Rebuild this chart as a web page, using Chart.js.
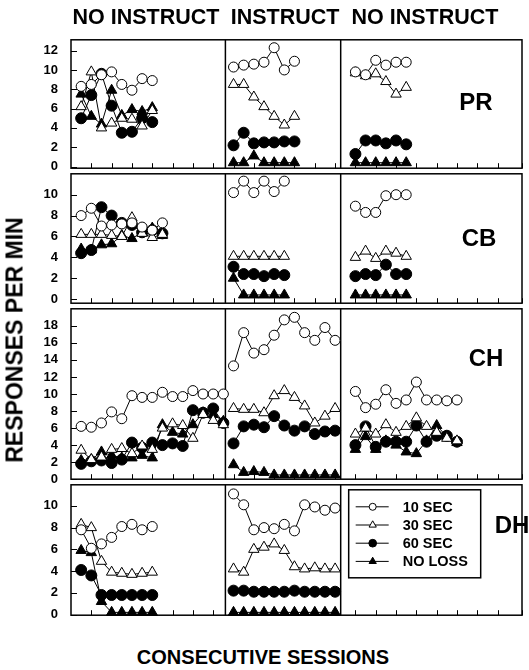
<!DOCTYPE html>
<html>
<head>
<meta charset="utf-8">
<script src="https://cdn.jsdelivr.net/npm/chart.js@4.4.1/dist/chart.umd.min.js"></script>
<style>
  body { margin: 0; background: #fff; }
  #wrap { position: relative; width: 529px; height: 670px; overflow: hidden;
          font-family: "Liberation Sans", Arial, sans-serif; font-weight: bold; color: #000; }
  .row { position: absolute; left: 0; }
  .txt { position: absolute; white-space: nowrap; line-height: 1; transform: translate(-50%, -50%); }
</style>
</head>
<body>
<div id="wrap">
  <canvas id="cPR" class="row" width="529" height="154" style="top:27px"></canvas>
  <canvas id="cCB" class="row" width="529" height="155" style="top:161px"></canvas>
  <canvas id="cCH" class="row" width="529" height="196" style="top:296px"></canvas>
  <canvas id="cDH" class="row" width="529" height="156" style="top:472px"></canvas>

  <div class="txt" style="left:146px; top:18px; font-size:21.5px">NO INSTRUCT</div>
  <div class="txt" style="left:285px; top:18px; font-size:21.5px">INSTRUCT</div>
  <div class="txt" style="left:425px; top:18px; font-size:21.5px">NO INSTRUCT</div>

  <div class="txt" style="left:476px; top:102px; font-size:24px">PR</div>
  <div class="txt" style="left:479px; top:238px; font-size:24px">CB</div>
  <div class="txt" style="left:486px; top:358px; font-size:24px">CH</div>
  <div class="txt" style="left:512px; top:525px; font-size:24px">DH</div>

  <div class="txt" style="left:15px; top:340px; font-size:23px; transform: translate(-50%, -50%) rotate(-90deg)">RESPONSES PER MIN</div>
  <div class="txt" style="left:263px; top:657px; font-size:20px">CONSECUTIVE SESSIONS</div>
</div>

<script>
// session where each phase begins (NO INSTRUCT, INSTRUCT, NO INSTRUCT)
var phaseStart = [1, 16, 28];
var phaseBreaks = [15.2, 26.55];
var sessionMax = 44.4;

var conditions = ['10 SEC', '30 SEC', '60 SEC', 'NO LOSS'];

// tick labels per row
var prTicks = [0, 2, 4, 6, 8, 10, 12];
var cbTicks = [0, 2, 4, 6, 8, 10];
var chTicks = [0, 2, 4, 6, 8, 10, 12, 14, 16, 18];
var dhTicks = [0, 2, 4, 6, 8, 10];

// PR
var prTen    = [[8.3, 8.5, 9.5, 9.8, 8.5, 7.9, 9.1, 8.9], [10.3, 10.5, 10.6, 10.8, 12.3, 10.0, 10.9], [9.8, 9.5, 11.0, 10.5, 10.8, 10.8]];
var prThirty = [[6.2, 9.8, 4.0, 4.5, 5.0, 4.9, 4.2, 5.8], [8.5, 8.5, 7.2, 6.2, 5.2, 4.3, 5.2], [9.7, 9.4, 9.6, 8.8, 7.5, 8.2]];
var prSixty  = [[5.0, 7.4, 9.6, 6.3, 3.5, 3.6, 5.0, 4.6], [2.2, 3.5, 2.4, 2.5, 2.5, 2.6, 2.6], [1.3, 2.7, 2.7, 2.4, 2.7, 2.3]];
var prNoLoss = [[7.5, 5.2, 4.4, 7.9, 5.3, 5.9, 5.7, 6.1], [0.4, 0.4, 1.1, 0.4, 0.4, 0.4, 0.4], [0.4, 0.4, 0.4, 0.4, 0.4, 0.4]];

// CB
var cbTen    = [[8.0, 8.7, 7.0, 7.1, 7.2, 7.3, 6.9, 6.6, 7.3], [10.2, 11.3, 10.2, 11.3, 10.3, 11.3], [8.9, 8.3, 8.3, 9.9, 10.0, 10.0]];
var cbThirty = [[6.2, 6.2, 6.2, 6.1, 6.0, 7.8, 6.3, 5.9, 6.2], [4.1, 4.1, 4.1, 4.1, 4.1, 4.1], [4.0, 4.6, 3.9, 4.6, 4.4, 4.1]];
var cbSixty  = [[4.4, 4.7, 8.8, 8.0, 7.3, 7.1, 6.4, 6.6, 6.3], [3.1, 2.4, 2.4, 2.2, 2.4, 2.3], [2.2, 2.4, 2.3, 3.3, 2.4, 2.4]];
var cbNoLoss = [[4.8, 4.7, 5.2, 5.3, 6.1, 5.8, 6.4, 6.8, 6.1], [2.0, 0.4, 0.4, 0.4, 0.4, 0.4], [0.4, 0.4, 0.4, 0.4, 0.4, 0.4]];

// CH
var chTen    = [[6.2, 6.1, 6.6, 7.9, 7.1, 9.8, 9.6, 9.6, 10.2, 9.7, 9.7, 10.4, 10.0, 10.0, 10.0],
                [13.3, 17.2, 14.8, 15.2, 16.9, 18.7, 19.0, 17.2, 16.3, 17.8, 16.3],
                [10.3, 8.4, 8.8, 10.5, 8.9, 9.3, 11.4, 9.3, 9.3, 9.2, 9.3]];
var chThirty = [[3.4, 2.3, 2.6, 3.5, 3.6, 3.0, 3.9, 3.5, 6.0, 6.5, 6.3, 4.8, 7.6, 6.9, 6.4],
                [8.3, 8.2, 8.2, 7.8, 9.8, 10.4, 9.6, 8.6, 6.6, 7.4, 8.3],
                [5.3, 6.0, 5.3, 6.4, 5.5, 6.2, 7.2, 6.2, 5.5, 4.8, 4.5]];
var chSixty  = [[1.8, 2.1, 2.2, 1.9, 2.3, 4.3, 3.7, 4.3, 4.0, 4.2, 3.9, 8.1, 7.8, 8.3, 6.6],
                [4.2, 6.2, 6.4, 6.1, 7.4, 6.3, 5.7, 6.2, 5.3, 5.6, 5.7],
                [4.0, 6.2, 3.8, 4.4, 4.4, 4.4, 6.3, 4.4, 5.1, 5.1, 4.4]];
var chNoLoss = [[2.2, 2.3, 3.2, 2.8, 2.5, 2.5, 2.8, 2.5, 6.4, 5.5, 5.3, 6.4, 7.8, 7.6, 6.8],
                [1.7, 0.8, 0.9, 0.8, 0.5, 0.5, 0.5, 0.5, 0.5, 0.5, 0.5],
                [3.5, 5.0, 3.5, 4.5, 4.0, 3.2, 3.0, 4.5, 6.3, 5.0, 4.3]];

// DH
var dhTen    = [[7.8, 6.1, 6.5, 7.1, 8.1, 8.3, 7.8, 8.1], [11.1, 10.1, 7.8, 8.0, 7.9, 8.3, 7.7, 10.1, 9.9, 9.6, 9.8], []];
var dhThirty = [[8.3, 8.0, 4.9, 3.9, 3.8, 3.7, 3.8, 3.9], [4.2, 3.9, 6.0, 6.2, 6.5, 5.9, 4.4, 4.2, 4.3, 4.2, 4.2], []];
var dhSixty  = [[4.1, 3.6, 1.8, 1.8, 1.8, 1.8, 1.8, 1.8], [2.2, 2.2, 2.1, 2.1, 2.1, 2.1, 2.2, 2.1, 2.1, 2.1, 2.1], []];
var dhNoLoss = [[5.9, 5.7, 1.2, 0.2, 0.2, 0.2, 0.2, 0.2], [0.2, 0.2, 0.2, 0.2, 0.2, 0.2, 0.2, 0.2, 0.2, 0.2, 0.2], []];

var markStyles = [
  { style: 'circle', fill: '#fff', r: 5 },
  { style: 'triangle', fill: '#fff', r: 6 },
  { style: 'circle', fill: '#000', r: 5.5 },
  { style: 'triangle', fill: '#000', r: 6 }
];

function series(phases) {
  var pts = [];
  phases.forEach(function (vals, p) {
    vals.forEach(function (v, i) { pts.push({ x: phaseStart[p] + i, y: v }); });
    if (vals.length) pts.push({ x: phaseStart[p] + vals.length - 0.5, y: null });
  });
  return pts;
}

function drawMark(ctx, m, x, y, r) {
  ctx.beginPath();
  if (m.style === 'circle') {
    ctx.arc(x, y, r, 0, Math.PI * 2);
  } else {
    ctx.moveTo(x, y - r);
    ctx.lineTo(x + r * 0.866, y + r / 2);
    ctx.lineTo(x - r * 0.866, y + r / 2);
    ctx.closePath();
  }
  ctx.fillStyle = m.fill;
  ctx.fill();
  ctx.lineWidth = 1;
  ctx.strokeStyle = '#000';
  ctx.stroke();
}

var panelFrame = {
  id: 'panelFrame',
  beforeDatasetsDraw: function (chart) {
    var ctx = chart.ctx, a = chart.chartArea, xs = chart.scales.x, ys = chart.scales.y;
    ctx.save();
    ctx.strokeStyle = '#000';
    ctx.lineWidth = 1.5;
    ctx.strokeRect(a.left, a.top, a.right - a.left, a.bottom - a.top);
    phaseBreaks.forEach(function (b) {
      var px = xs.getPixelForValue(b);
      ctx.beginPath(); ctx.moveTo(px, a.top); ctx.lineTo(px, a.bottom); ctx.stroke();
    });
    ctx.lineWidth = 1;
    xs.ticks.forEach(function (t) {
      if (t.value <= 0) return;
      var px = Math.round(xs.getPixelForValue(t.value)) + 0.5;
      ctx.beginPath(); ctx.moveTo(px, a.bottom); ctx.lineTo(px, a.bottom - 5); ctx.stroke();
    });
    ys.ticks.forEach(function (t) {
      var py = Math.round(ys.getPixelForValue(t.value)) + 0.5;
      ctx.beginPath(); ctx.moveTo(a.left, py); ctx.lineTo(a.left + 6, py); ctx.stroke();
    });
    ctx.restore();
  }
};

// legend box drawn inside the DH panel, third phase
var boxLegend = {
  id: 'boxLegend',
  afterDatasetsDraw: function (chart) {
    var ctx = chart.ctx, a = chart.chartArea, xs = chart.scales.x;
    var left = xs.getPixelForValue(phaseBreaks[1]) + 8, top = a.top + 5;
    ctx.save();
    ctx.fillStyle = '#fff';
    ctx.fillRect(left, top, 132, 88);
    ctx.strokeStyle = '#000';
    ctx.lineWidth = 1.5;
    ctx.strokeRect(left, top, 132, 88);
    ctx.font = 'bold 14.5px "Liberation Sans", Arial, sans-serif';
    ctx.textBaseline = 'middle';
    chart.data.datasets.forEach(function (ds, i) {
      var y = top + 17 + i * 18.2;
      ctx.beginPath();
      ctx.lineWidth = 1;
      ctx.moveTo(left + 7, y); ctx.lineTo(left + 40, y); ctx.stroke();
      drawMark(ctx, markStyles[i], left + 24, y, markStyles[i].r * 0.7);
      ctx.fillStyle = '#000';
      ctx.fillText(ds.label, left + 54, y + 1);
    });
    ctx.restore();
  }
};

function makeRow(id, sets, yMin, yMax, ticks, withLegend) {
  var datasets = sets.map(function (phases, i) {
    var m = markStyles[i];
    return {
      label: conditions[i],
      data: series(phases),
      borderColor: '#000',
      borderWidth: 1,
      pointStyle: m.style,
      pointRadius: m.r,
      pointBackgroundColor: m.fill,
      pointBorderColor: '#000',
      pointBorderWidth: 1,
      spanGaps: false,
      clip: 10
    };
  });
  return new Chart(document.getElementById(id), {
    type: 'line',
    data: { datasets: datasets },
    plugins: withLegend ? [panelFrame, boxLegend] : [panelFrame],
    options: {
      responsive: false,
      animation: false,
      events: [],
      layout: { padding: { top: 10, bottom: 10, left: 0, right: 0 } },
      plugins: { legend: { display: false }, tooltip: { enabled: false } },
      scales: {
        x: {
          type: 'linear', min: 0, max: sessionMax,
          ticks: { display: false, stepSize: 2 },
          grid: { display: false }, border: { display: false },
          afterFit: function (s) { s.height = 0; }
        },
        y: {
          min: yMin, max: yMax,
          afterBuildTicks: function (s) { s.ticks = ticks.map(function (v) { return { value: v }; }); },
          ticks: { color: '#000', padding: 5, font: { family: '"Liberation Sans", Arial, sans-serif', weight: 'bold', size: 13 } },
          grid: { display: false }, border: { display: false },
          afterFit: function (s) { s.width = 71; }
        }
      }
    }
  });
}

makeRow('cPR', [prTen, prThirty, prSixty, prNoLoss], -0.17, 13.12, prTicks, false);
makeRow('cCB', [cbTen, cbThirty, cbSixty, cbNoLoss], -0.39, 12.0, cbTicks, false);
makeRow('cCH', [chTen, chThirty, chSixty, chNoLoss], 0, 20, chTicks, false);
makeRow('cDH', [dhTen, dhThirty, dhSixty, dhNoLoss], -0.06, 11.94, dhTicks, true);
</script>
</body>
</html>
